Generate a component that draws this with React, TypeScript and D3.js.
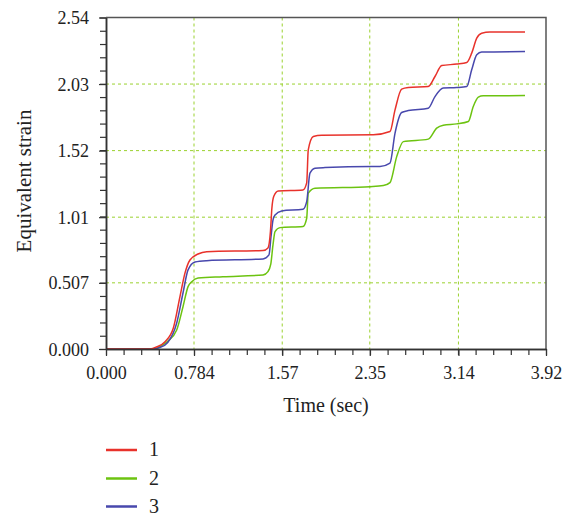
import React, { useEffect, useRef } from "react";
import * as d3 from "d3";

// tick labels as printed on the chart
const xTicks = [0, 0.784, 1.57, 2.35, 3.14, 3.92];
const xTickLabels = ["0.000", "0.784", "1.57", "2.35", "3.14", "3.92"];
const yTicks = [0, 0.507, 1.01, 1.52, 2.03, 2.54];
const yTickLabels = ["0.000", "0.507", "1.01", "1.52", "2.03", "2.54"];

const seriesNames = ["1", "2", "3"];
const seriesColors = ["#e8322b", "#6cc310", "#4848ad"];

// series 1 (red)
const t1 = [0, 0.39, 0.45, 0.526, 0.6, 0.659, 0.704, 0.748, 0.82, 0.897, 1.399, 1.443, 1.465, 1.478, 1.495, 1.535, 1.755, 1.788, 1.802, 1.847, 1.922, 2.381, 2.53, 2.575, 2.634, 2.693, 2.871, 2.931, 2.991, 3.124, 3.214, 3.258, 3.303, 3.347, 3.421, 3.733];
const v1 = [0, 0, 0.015, 0.056, 0.161, 0.401, 0.583, 0.682, 0.728, 0.746, 0.754, 0.774, 0.9, 1.08, 1.17, 1.211, 1.219, 1.273, 1.526, 1.628, 1.638, 1.641, 1.666, 1.832, 1.991, 2.003, 2.011, 2.088, 2.172, 2.183, 2.195, 2.267, 2.382, 2.42, 2.428, 2.428];

// series 2 (green)
const t2 = [0, 0.44, 0.481, 0.55, 0.63, 0.686, 0.731, 0.764, 0.82, 1.042, 1.399, 1.443, 1.468, 1.488, 1.506, 1.55, 1.755, 1.788, 1.802, 1.862, 2.352, 2.471, 2.53, 2.59, 2.649, 2.871, 2.946, 3.005, 3.124, 3.228, 3.272, 3.317, 3.361, 3.733];
const v2 = [0, 0, 0.018, 0.06, 0.146, 0.324, 0.478, 0.516, 0.544, 0.554, 0.567, 0.593, 0.65, 0.8, 0.899, 0.93, 0.938, 1.002, 1.194, 1.232, 1.244, 1.252, 1.275, 1.474, 1.589, 1.608, 1.692, 1.715, 1.725, 1.743, 1.858, 1.93, 1.94, 1.942];

// series 3 (blue)
const t3 = [0, 0.4, 0.48, 0.55, 0.63, 0.686, 0.731, 0.793, 0.897, 1.399, 1.452, 1.47, 1.488, 1.506, 1.565, 1.755, 1.788, 1.817, 1.862, 1.951, 2.367, 2.441, 2.53, 2.575, 2.634, 2.693, 2.871, 2.931, 3.005, 3.124, 3.214, 3.258, 3.303, 3.347, 3.733];
const v3 = [0, 0, 0.012, 0.05, 0.199, 0.429, 0.606, 0.667, 0.677, 0.69, 0.721, 0.86, 0.99, 1.027, 1.058, 1.071, 1.129, 1.347, 1.385, 1.39, 1.398, 1.398, 1.424, 1.654, 1.812, 1.827, 1.845, 1.934, 1.999, 2.003, 2.011, 2.139, 2.254, 2.275, 2.279];

const App = () => {
  const svgRef = useRef<SVGSVGElement>(null);

  useEffect(() => {
    const width = 572, height = 517;
    const left = 106, right = 546, top = 17.5, bottom = 349;
    const font = "'Liberation Serif', 'Times New Roman', serif";

    const svg = d3.select(svgRef.current);
    svg.selectAll("*").remove();
    svg.attr("width", width).attr("height", height);

    const x = d3.scaleLinear().domain([0, 3.92]).range([left, right]);
    const y = d3.scaleLinear().domain([0, 2.54]).range([bottom, top]);

    // grid
    const grid = svg.append("g")
      .attr("stroke", "#9ad12e")
      .attr("stroke-width", 1)
      .attr("stroke-dasharray", "3,3");
    xTicks.slice(1, -1).forEach(t => {
      grid.append("line").attr("x1", x(t)).attr("x2", x(t)).attr("y1", top).attr("y2", bottom);
    });
    yTicks.slice(1, -1).forEach(t => {
      grid.append("line").attr("x1", left).attr("x2", right).attr("y1", y(t)).attr("y2", y(t));
    });

    // series
    const line = d3.line<[number, number]>()
      .x(d => x(d[0]))
      .y(d => y(d[1]))
      .curve(d3.curveMonotoneX);
    const series = [
      { t: t2, v: v2, c: seriesColors[1] },
      { t: t3, v: v3, c: seriesColors[2] },
      { t: t1, v: v1, c: seriesColors[0] },
    ];
    series.forEach(s => {
      const pts = s.t.map((t, i) => [t, s.v[i]] as [number, number]);
      svg.append("path")
        .attr("d", line(pts))
        .attr("fill", "none")
        .attr("stroke", s.c)
        .attr("stroke-width", 1.5);
    });

    // frame
    svg.append("path")
      .attr("d", `M${left},${top}H${right}V${bottom}`)
      .attr("fill", "none")
      .attr("stroke", "#555")
      .attr("stroke-width", 1.5);

    // axes
    const minorX = d3.range(0, 26).map(i => (3.92 / 25) * i);
    const minorY = d3.range(0, 26).map(i => (2.54 / 25) * i);

    const xAxis = svg.append("g").attr("transform", `translate(0,${bottom})`);
    xAxis.call(d3.axisBottom(x).tickValues(minorX).tickSize(6).tickFormat(() => "").tickSizeOuter(0));
    xAxis.append("g").call(d3.axisBottom(x).tickValues(xTicks).tickSize(7).tickSizeOuter(0)
      .tickFormat((d, i) => xTickLabels[i]));

    const yAxis = svg.append("g").attr("transform", `translate(${left},0)`);
    yAxis.call(d3.axisLeft(y).tickValues(minorY).tickSize(6).tickFormat(() => "").tickSizeOuter(0));
    yAxis.append("g").call(d3.axisLeft(y).tickValues(yTicks).tickSize(7).tickSizeOuter(0)
      .tickFormat((d, i) => yTickLabels[i]));

    svg.selectAll(".domain").attr("stroke", "#333").attr("stroke-width", 1.5);
    svg.selectAll(".tick line").attr("stroke", "#333").attr("stroke-width", 1.2);
    svg.selectAll(".tick text")
      .attr("font-family", font)
      .attr("font-size", 18)
      .attr("fill", "#222");
    xAxis.selectAll(".tick text").attr("dy", null).attr("y", 30);
    yAxis.selectAll(".tick text").attr("x", -17).attr("dy", "0.34em");

    // axis titles
    svg.append("text")
      .attr("x", (left + right) / 2)
      .attr("y", 412)
      .attr("text-anchor", "middle")
      .attr("font-family", font)
      .attr("font-size", 20)
      .attr("fill", "#222")
      .text("Time (sec)");

    svg.append("text")
      .attr("transform", "rotate(-90)")
      .attr("x", -181)
      .attr("y", 31)
      .attr("text-anchor", "middle")
      .attr("font-family", font)
      .attr("font-size", 21)
      .attr("fill", "#222")
      .text("Equivalent strain");

    // legend
    const legendY = [450, 478.5, 506.5];
    seriesNames.forEach((name, i) => {
      svg.append("line")
        .attr("x1", 106).attr("x2", 137)
        .attr("y1", legendY[i]).attr("y2", legendY[i])
        .attr("stroke", seriesColors[i])
        .attr("stroke-width", 2.5);
      svg.append("text")
        .attr("x", 149)
        .attr("y", legendY[i] + 6)
        .attr("font-family", font)
        .attr("font-size", 20)
        .attr("fill", "#222")
        .text(name);
    });
  }, []);

  return <svg ref={svgRef} style={{ position: "absolute", left: 0, top: 0 }}></svg>;
};

export default App;
